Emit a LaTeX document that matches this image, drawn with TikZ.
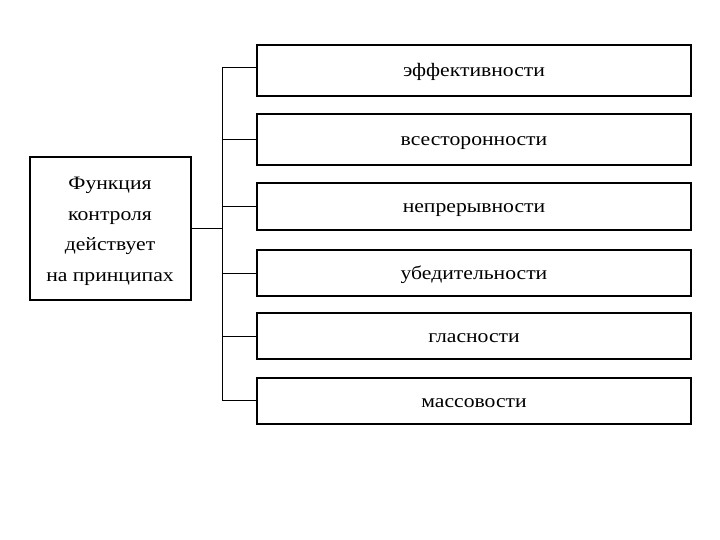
\documentclass[tikz,border=0pt]{standalone}
\usepackage{fontspec}
\setmainfont[FakeStretch=1.14]{Liberation Serif}
\begin{document}
\begin{tikzpicture}[x=1pt,y=-1pt,
  rbox/.style={draw,line width=2pt,minimum width=434pt,anchor=north west,inner sep=0pt,text height=13pt,text depth=1pt,font=\fontsize{19}{22}\selectfont},
  lbox/.style={draw,line width=2pt,minimum width=161pt,minimum height=142pt,inner sep=0pt,align=center,font=\fontsize{19}{30.5}\selectfont},
  conn/.style={line width=1pt}]
\useasboundingbox (0,0) rectangle (720,540);
\node[lbox] (L) at (110,228.5) {\rule{0pt}{4pt}\\[-16pt]Функция\\контроля\\действует\\на принципах};
\node[rbox,minimum height=51pt] (b1) at (256,44) {эффективности};
\node[rbox,minimum height=51pt] (b2) at (256,113) {всесторонности};
\node[rbox,minimum height=47pt] (b3) at (256,182) {непрерывности};
\node[rbox,minimum height=46pt] (b4) at (256,249) {убедительности};
\node[rbox,minimum height=46pt] (b5) at (256,312) {гласности};
\node[rbox,minimum height=46pt] (b6) at (256,377) {массовости};
\coordinate (t) at (222,68);
\coordinate (bt) at (222,400);
\coordinate (m) at (222,229);
\draw[conn] (L.east |- m) -- (m);
\draw[conn] (t) -- (bt);
\draw[conn] (t) -- (b1.west |- t);
\foreach \n in {b2,b3,b4,b5}{\draw[conn] (\n.west) -- (\n.west -| t);}
\draw[conn] (bt) -- (b6.west |- bt);
\end{tikzpicture}
\end{document}
